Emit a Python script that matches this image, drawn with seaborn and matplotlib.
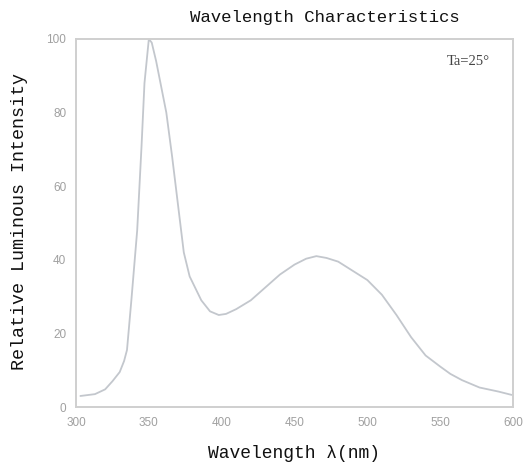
# Wavelength characteristics — relative luminous intensity vs wavelength

import pandas as pd
import seaborn as sns
import matplotlib
matplotlib.use("Agg")
import matplotlib.pyplot as plt

# Values
wavelength = [303, 313, 320, 325, 330, 333, 335, 338, 342, 345, 347, 350, 352, 355,
              358, 362, 366, 370, 374, 378, 386, 392, 398, 403, 410, 420, 430, 440,
              450, 458, 465, 472, 480, 490, 500, 510, 520, 530, 540, 550, 557, 565,
              577, 590, 599]
intensity = [3.0, 3.5, 4.8, 7.0, 9.5, 12.5, 15.5, 29, 48, 71, 88, 100, 99, 94,
             88, 80, 68, 55, 42, 35.5, 29, 26, 25, 25.3, 26.6, 29, 32.5, 36,
             38.7, 40.3, 41, 40.5, 39.5, 37, 34.5, 30.5, 25, 19, 14, 11, 9, 7.3,
             5.3, 4.2, 3.3]
x_ticks = [300, 350, 400, 450, 500, 550, 600]
y_ticks = [0, 20, 40, 60, 80, 100]

df = pd.DataFrame({"Wavelength": wavelength, "Intensity": intensity})

sns.set_theme(style="white")
plt.rcParams["font.family"] = ["Liberation Mono", "DejaVu Sans Mono"]

fig = plt.figure(figsize=(5.26, 4.68), dpi=100)
ax = fig.add_axes([0.1445, 0.1303, 0.8308, 0.7864])

sns.lineplot(data=df, x="Wavelength", y="Intensity", color="#c3c7cd", linewidth=1.3, ax=ax)

ax.set_xlim(300, 600)
ax.set_ylim(0, 100)
ax.set_xticks(x_ticks)
ax.set_yticks(y_ticks)
ax.set_xlabel("")
ax.set_ylabel("")
ax.tick_params(length=0, labelsize=8.5, labelcolor="#a0a0a0", pad=7)
for lbl in ax.get_xticklabels() + ax.get_yticklabels():
    lbl.set_family("Liberation Sans")

for sp in ax.spines.values():
    sp.set_color("#cfcfcf")
    sp.set_linewidth(1.4)

ax.text(0.947, 0.938, "Ta=25°", transform=ax.transAxes, ha="right", va="center",
        fontsize=10.5, color="#444444", family="Liberation Serif")

fig.text(0.618, 0.962, "Wavelength Characteristics", ha="center", va="center",
         fontsize=12.5, color="#111111")
fig.text(0.038, 0.526, "Relative Luminous Intensity", ha="center", va="center",
         rotation=90, fontsize=13.2, color="#111111")
fig.text(0.558, 0.032, "Wavelength λ(nm)", ha="center", va="center",
         fontsize=13, color="#111111")

plt.savefig("out.png", dpi=100)
